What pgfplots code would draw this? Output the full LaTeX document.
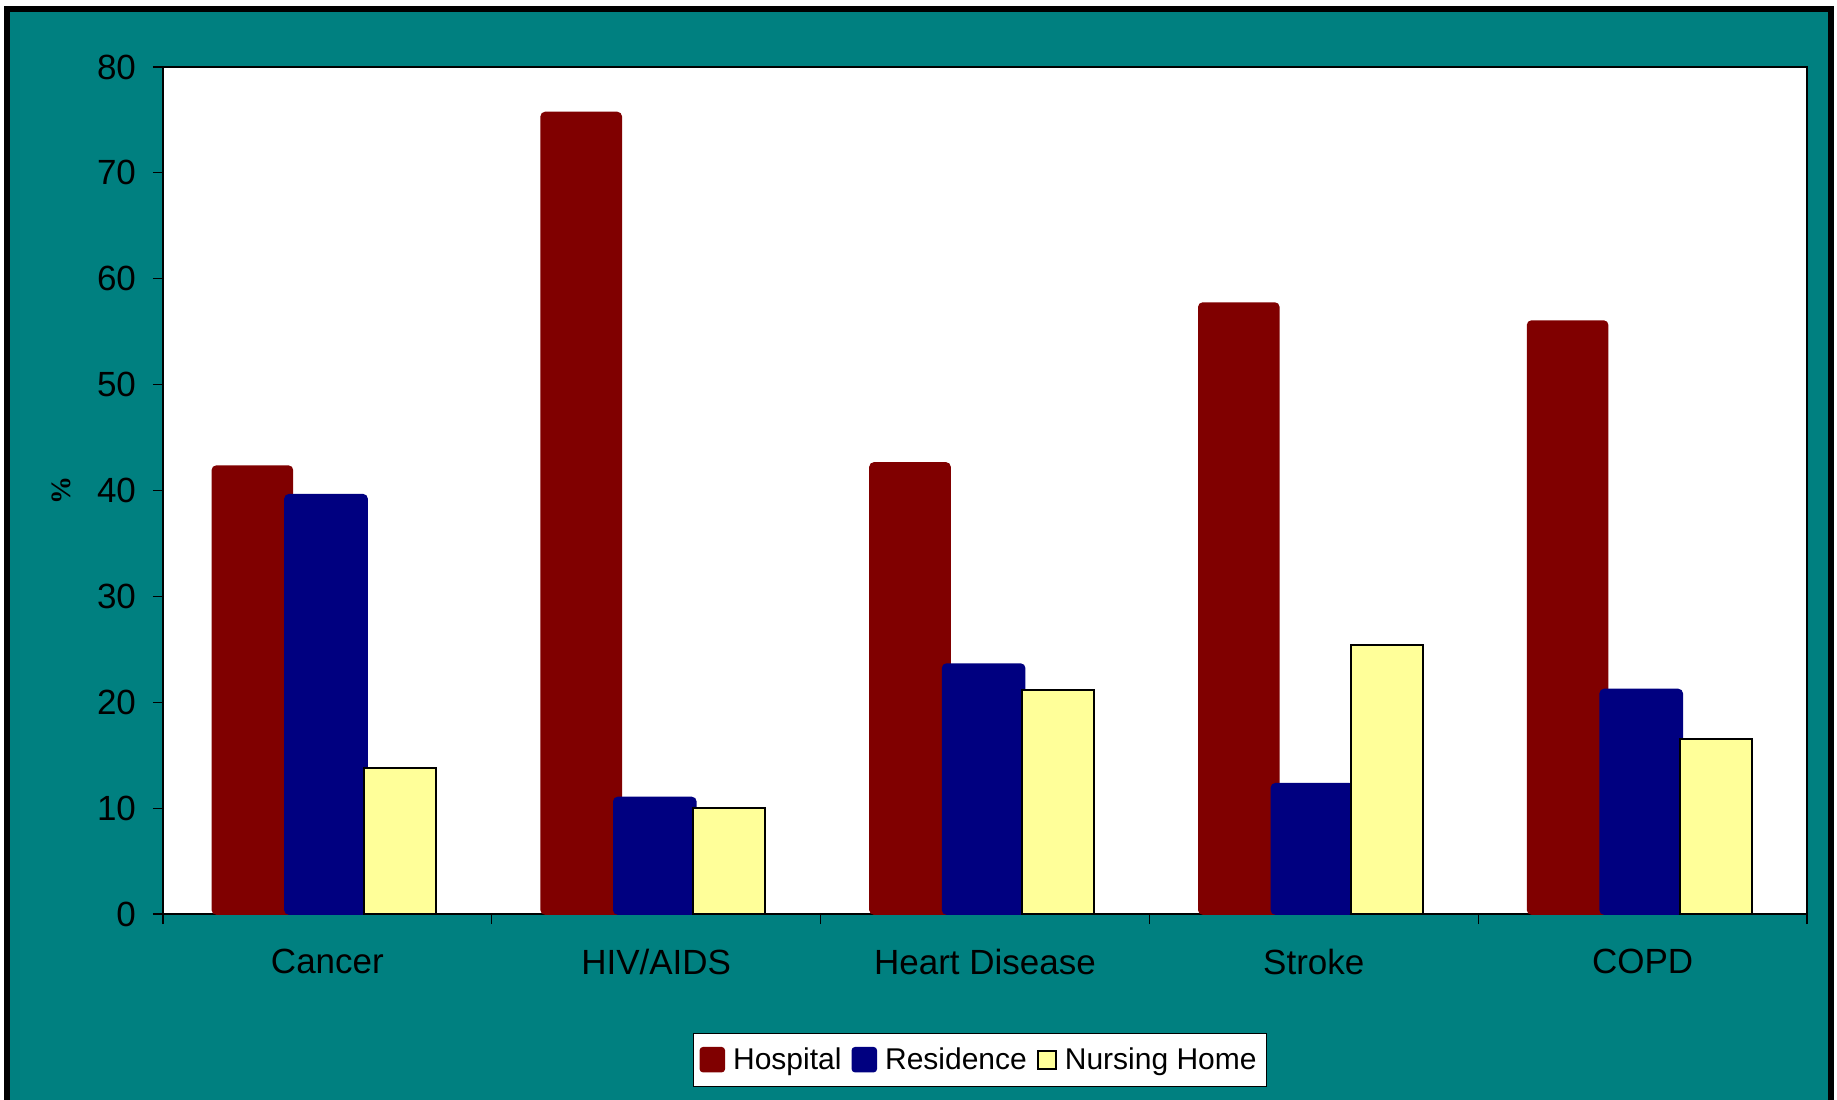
\documentclass[border=0pt]{standalone}
\usepackage{fontspec}
\setmainfont{Liberation Sans}
\newfontfamily\seriffont{Liberation Serif}
\usepackage{pgfplots}
\pgfplotsset{compat=1.18}
\definecolor{tealbg}{HTML}{008080}
\definecolor{hosp}{HTML}{800000}
\definecolor{resid}{HTML}{000080}
\definecolor{nurse}{HTML}{FFFF99}
\begin{document}
\begin{tikzpicture}
\useasboundingbox (0,0) rectangle (918.5pt,549.5pt);
\fill[white] (0,0) rectangle (918.5pt,549.5pt);
\draw[line width=3pt, fill=tealbg] (3.5pt,-2pt) rectangle (915.5pt,544.8pt);
\begin{axis}[
  at={(81.5pt,92.5pt)}, anchor=south west,
  scale only axis, width=822pt, height=423.5pt,
  axis background/.style={fill=white},
  axis line style={black, line width=0.6pt},
  xmin=-0.5, xmax=4.5, ymin=0, ymax=80,
  xtick={0,1,2,3,4},
  xticklabels={Cancer, HIV/AIDS, Heart Disease, Stroke, COPD},
  minor xtick={-0.5,0.5,1.5,2.5,3.5,4.5},
  major x tick style={draw=none},
  minor tick length=5pt,
  major tick length=5pt,
  ytick={0,10,...,80},
  tick align=outside,
  tick pos=left,
  tick style={black, line width=0.6pt},
  yticklabel style={font=\fontsize{17.5}{19}\selectfont, xshift=-5pt},
  xticklabel style={font=\fontsize{17.5}{19}\selectfont, yshift=-9pt},
  /pgf/number format/assume math mode=true,
  ylabel={\seriffont\bfseries\fontsize{14}{15}\selectfont\%},
  ylabel style={at={(axis description cs:-0.062,0.5)}, anchor=center},
  ybar,
  legend columns=3,
  legend style={at={(0.497,-0.172)}, anchor=center, draw=black, fill=white,
    font=\fontsize{15}{17}\selectfont, inner xsep=3pt, inner ysep=5pt,
    /tikz/every even column/.append style={column sep=3pt},
    /tikz/every odd column/.append style={column sep=2pt}},
  legend image code/.code={\draw[#1, rounded corners=1.5pt] (0pt,-6pt) rectangle (12pt,6pt);},
]
\addplot[fill=hosp, draw=hosp, line width=0.8pt, rounded corners=2pt, bar width=40pt, bar shift=-37.5pt]
  coordinates {(0,42.3) (1,75.7) (2,42.6) (3,57.7) (4,56.0)};
\addlegendentry{Hospital}
\addplot[fill=resid, draw=resid, line width=0.8pt, rounded corners=2pt, bar width=41pt, bar shift=-0.7pt]
  coordinates {(0,39.6) (1,11.0) (2,23.6) (3,12.3) (4,21.2)};
\addlegendentry{Residence}
\addplot[fill=nurse, draw=black, line width=1pt, bar width=36pt, bar shift=36.5pt,
  legend image code/.code={\draw[fill=nurse, draw=black, line width=1pt] (2pt,-4.5pt) rectangle (11pt,4.5pt);}]
  coordinates {(0,13.8) (1,10.0) (2,21.2) (3,25.4) (4,16.5)};
\addlegendentry{Nursing Home}
\end{axis}
\end{tikzpicture}
\end{document}
